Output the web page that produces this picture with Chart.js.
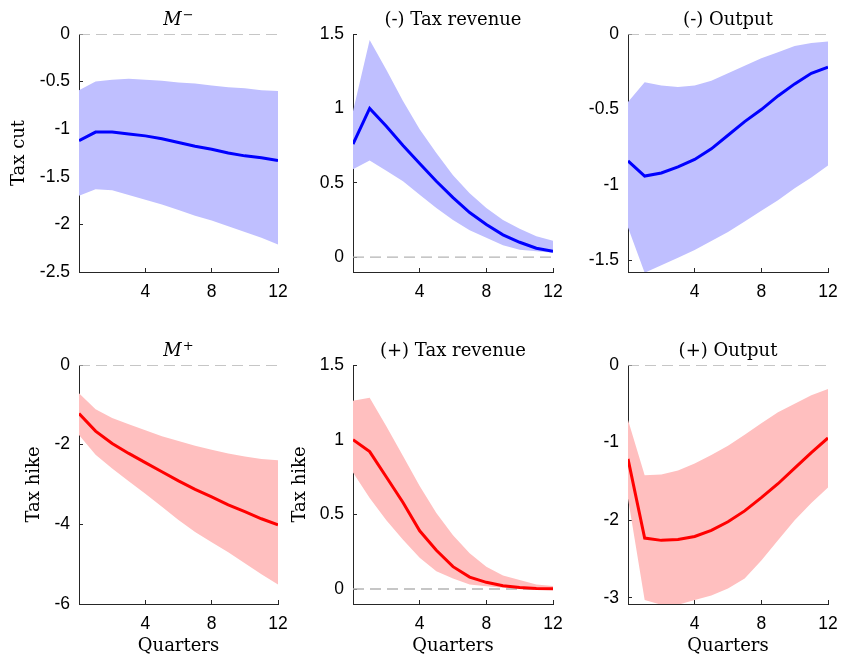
<!DOCTYPE html>
<html>
<head>
<meta charset="utf-8">
<script src="https://cdn.jsdelivr.net/npm/chart.js@4.4.1/dist/chart.umd.min.js"></script>
<style>
  html, body { margin: 0; padding: 0; background: #fff; overflow: hidden; }
  #wrap { position: relative; width: 841px; height: 661px; }
  #wrap canvas { position: absolute; }
</style>
</head>
<body>
<div id="wrap"></div>
<script>
// ---- data ----
const quarters = [0, 1, 2, 3, 4, 5, 6, 7, 8, 9, 10, 11, 12];
const xTicks = [4, 8, 12];

// M- (tax cut)
const mMinusMedian = [-1.12, -1.03, -1.03, -1.05, -1.07, -1.10, -1.14, -1.18, -1.21, -1.25, -1.28, -1.30, -1.33];
const mMinusUpper  = [-0.59, -0.50, -0.48, -0.47, -0.48, -0.49, -0.51, -0.52, -0.54, -0.56, -0.57, -0.59, -0.60];
const mMinusLower  = [-1.70, -1.63, -1.64, -1.69, -1.74, -1.79, -1.85, -1.91, -1.96, -2.02, -2.08, -2.14, -2.21];
const mMinusTicks  = [0, -0.5, -1, -1.5, -2, -2.5];

// (-) Tax revenue
const revMinusMedian = [0.76, 1.00, 0.88, 0.75, 0.63, 0.51, 0.40, 0.30, 0.22, 0.15, 0.10, 0.06, 0.04];
const revMinusUpper  = [0.98, 1.46, 1.26, 1.05, 0.86, 0.70, 0.55, 0.43, 0.33, 0.25, 0.19, 0.14, 0.11];
const revMinusLower  = [0.59, 0.65, 0.58, 0.51, 0.42, 0.33, 0.25, 0.18, 0.13, 0.08, 0.05, 0.04, 0.03];
const revTicks       = [0, 0.5, 1, 1.5];

// (-) Output
const outMinusMedian = [-0.84, -0.94, -0.92, -0.88, -0.83, -0.76, -0.67, -0.58, -0.50, -0.41, -0.33, -0.26, -0.22];
const outMinusUpper  = [-0.45, -0.32, -0.34, -0.35, -0.34, -0.31, -0.26, -0.21, -0.16, -0.12, -0.08, -0.06, -0.05];
const outMinusLower  = [-1.28, -1.58, -1.53, -1.48, -1.43, -1.37, -1.31, -1.24, -1.17, -1.10, -1.02, -0.95, -0.87];
const outMinusTicks  = [0, -0.5, -1, -1.5];

// M+ (tax hike)
const mPlusMedian = [-1.22, -1.66, -1.97, -2.22, -2.45, -2.68, -2.91, -3.12, -3.31, -3.51, -3.68, -3.86, -4.01];
const mPlusUpper  = [-0.71, -1.11, -1.33, -1.49, -1.64, -1.79, -1.91, -2.03, -2.13, -2.22, -2.30, -2.36, -2.39];
const mPlusLower  = [-1.76, -2.25, -2.60, -2.92, -3.23, -3.56, -3.89, -4.19, -4.45, -4.70, -4.98, -5.25, -5.51];
const mPlusTicks  = [0, -2, -4, -6];

// (+) Tax revenue
const revPlusMedian = [1.00, 0.92, 0.75, 0.58, 0.39, 0.26, 0.15, 0.08, 0.045, 0.022, 0.011, 0.004, 0.002];
const revPlusUpper  = [1.26, 1.28, 1.09, 0.89, 0.69, 0.51, 0.36, 0.24, 0.15, 0.09, 0.06, 0.03, 0.02];
const revPlusLower  = [0.78, 0.61, 0.46, 0.33, 0.21, 0.12, 0.07, 0.03, 0.018, 0.009, 0.004, 0.002, 0.0];

// (+) Output
const outPlusMedian = [-1.21, -2.23, -2.26, -2.25, -2.21, -2.13, -2.02, -1.88, -1.71, -1.53, -1.33, -1.13, -0.94];
const outPlusUpper  = [-0.71, -1.42, -1.41, -1.36, -1.27, -1.16, -1.04, -0.90, -0.75, -0.61, -0.50, -0.39, -0.31];
const outPlusLower  = [-1.72, -3.03, -3.09, -3.09, -3.03, -2.97, -2.88, -2.75, -2.52, -2.26, -2.00, -1.78, -1.58];
const outPlusTicks  = [0, -1, -2, -3];

const zeroLine = [0, 0];

const BLUE = '#0000ff', BLUE_BAND = 'rgb(191,191,255)';
const RED = '#ff0000', RED_BAND = 'rgb(255,191,191)';
const AXIS = '#262626';
const SERIF = '"DejaVu Serif", serif';
const SANS = '"Liberation Sans", Arial, sans-serif';

// title drawn above the plot area (M with superscript sign or plain text)
const panelTitle = {
  id: 'panelTitle',
  afterDraw(chart, args, opts) {
    const { ctx, chartArea } = chart;
    const cx = (chartArea.left + chartArea.right) / 2;
    const y = chartArea.top - 9;
    ctx.save();
    ctx.fillStyle = '#000';
    ctx.textBaseline = 'alphabetic';
    if (opts.sup) {
      ctx.font = 'italic 18px ' + SERIF;
      const mw = ctx.measureText(opts.text).width;
      ctx.font = '13px ' + SERIF;
      const sw = ctx.measureText(opts.sup).width;
      const x0 = cx - (mw + sw + 1) / 2;
      ctx.textAlign = 'left';
      ctx.font = 'italic 18px ' + SERIF;
      ctx.fillText(opts.text, x0, y);
      ctx.font = '13px ' + SERIF;
      ctx.fillText(opts.sup, x0 + mw + 1, y - 6);
    } else {
      ctx.font = '18px ' + SERIF;
      ctx.textAlign = 'center';
      ctx.fillText(opts.text, cx, y);
    }
    ctx.restore();
  }
};

function pts(arr) {
  return arr.map((v, i) => ({ x: quarters[i], y: v }));
}

function makePanel(p) {
  const Wy = 74, padTop = 34, padRight = 12;
  const Hx = p.xTitle ? 55 : 40;
  const canvas = document.createElement('canvas');
  const w = Wy + p.plotW + padRight;
  const h = padTop + p.plotH + Hx;
  canvas.width = w; canvas.height = h;
  canvas.style.left = (p.plotLeft - Wy) + 'px';
  canvas.style.top = (p.plotTop - padTop) + 'px';
  canvas.style.width = w + 'px';
  canvas.style.height = h + 'px';
  document.getElementById('wrap').appendChild(canvas);

  new Chart(canvas.getContext('2d'), {
    type: 'line',
    data: {
      datasets: [
        { data: pts(p.median), borderColor: p.color, borderWidth: 3, pointRadius: 0, fill: false, tension: 0 },
        { data: [{ x: quarters[0], y: zeroLine[0] }, { x: quarters[quarters.length - 1], y: zeroLine[1] }],
          borderColor: '#b4b4b4', borderWidth: 1.4, borderDash: [11, 6], pointRadius: 0, fill: false },
        { data: pts(p.lower), borderWidth: 0, borderColor: 'rgba(0,0,0,0)', pointRadius: 0, fill: false },
        { data: pts(p.upper), borderWidth: 0, borderColor: 'rgba(0,0,0,0)', pointRadius: 0,
          fill: '-1', backgroundColor: p.band }
      ]
    },
    options: {
      responsive: false,
      animation: false,
      devicePixelRatio: 1,
      layout: { padding: { top: padTop, right: padRight, left: 0, bottom: 0 } },
      plugins: {
        legend: { display: false },
        tooltip: { enabled: false },
        panelTitle: { text: p.title, sup: p.sup }
      },
      scales: {
        x: {
          type: 'linear',
          min: 0, max: 12,
          afterBuildTicks: s => { s.ticks = xTicks.map(v => ({ value: v })); },
          afterFit: s => { s.height = Hx; s.paddingLeft = 0; s.paddingRight = 0; s.paddingTop = 0; s.paddingBottom = 0; },
          border: { display: true, color: AXIS, width: 1 },
          grid: { display: true, drawOnChartArea: false, drawTicks: true, tickLength: -4, color: AXIS },
          ticks: { color: '#000', font: { family: SANS, size: 17.5 }, padding: 14, maxRotation: 0,
                   callback: v => String(v) },
          title: { display: !!p.xTitle, text: p.xTitle || '', color: '#000',
                   font: { family: SERIF, size: 18 }, padding: { top: 0, bottom: 2 } }
        },
        y: {
          type: 'linear',
          min: p.yMin, max: p.yMax,
          afterBuildTicks: s => { s.ticks = p.yTicks.map(v => ({ value: v })); },
          afterFit: s => { s.width = Wy; s.paddingLeft = 0; s.paddingRight = 0; s.paddingTop = 0; s.paddingBottom = 0; },
          border: { display: true, color: AXIS, width: 1 },
          grid: { display: true, drawOnChartArea: false, drawTicks: true, tickLength: -4, color: AXIS },
          ticks: { color: '#000', font: { family: SANS, size: 17.5 }, padding: 13,
                   callback: v => String(v) },
          title: { display: !!p.yTitle, text: p.yTitle || '', color: '#000',
                   font: { family: SERIF, size: 18 }, padding: { top: p.yTitlePad || 0, bottom: 0 } }
        }
      }
    },
    plugins: [panelTitle]
  });
}

const panels = [
  { title: 'M', sup: '\u2212', median: mMinusMedian, upper: mMinusUpper, lower: mMinusLower,
    color: BLUE, band: BLUE_BAND, yMin: -2.5, yMax: 0, yTicks: mMinusTicks, yTitle: 'Tax cut', yTitlePad: 4,
    plotLeft: 79, plotTop: 34, plotW: 199, plotH: 238 },
  { title: '(-) Tax revenue', median: revMinusMedian, upper: revMinusUpper, lower: revMinusLower,
    color: BLUE, band: BLUE_BAND, yMin: -0.1, yMax: 1.5, yTicks: revTicks,
    plotLeft: 353, plotTop: 34, plotW: 200, plotH: 238 },
  { title: '(-) Output', median: outMinusMedian, upper: outMinusUpper, lower: outMinusLower,
    color: BLUE, band: BLUE_BAND, yMin: -1.575, yMax: 0, yTicks: outMinusTicks,
    plotLeft: 628, plotTop: 34, plotW: 200, plotH: 238 },
  { title: 'M', sup: '+', median: mPlusMedian, upper: mPlusUpper, lower: mPlusLower,
    color: RED, band: RED_BAND, yMin: -6, yMax: 0, yTicks: mPlusTicks, yTitle: 'Tax hike', yTitlePad: 19,
    xTitle: 'Quarters', plotLeft: 79, plotTop: 365, plotW: 199, plotH: 239 },
  { title: '(+) Tax revenue', median: revPlusMedian, upper: revPlusUpper, lower: revPlusLower,
    color: RED, band: RED_BAND, yMin: -0.1, yMax: 1.5, yTicks: revTicks, yTitle: 'Tax hike', yTitlePad: 11,
    xTitle: 'Quarters', plotLeft: 353, plotTop: 365, plotW: 200, plotH: 239 },
  { title: '(+) Output', median: outPlusMedian, upper: outPlusUpper, lower: outPlusLower,
    color: RED, band: RED_BAND, yMin: -3.08, yMax: 0, yTicks: outPlusTicks,
    xTitle: 'Quarters', plotLeft: 628, plotTop: 365, plotW: 200, plotH: 239 }
];

panels.forEach(makePanel);
</script>
</body>
</html>
